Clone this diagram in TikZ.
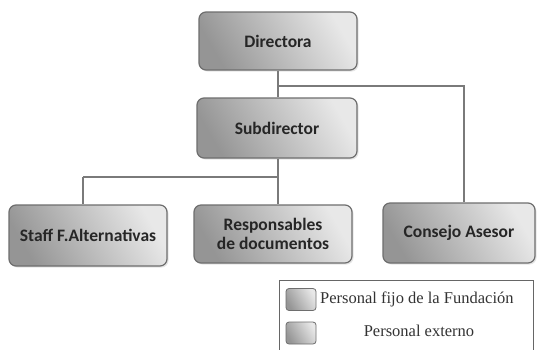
\documentclass[tikz,border=0pt]{standalone}
\usepackage{fontspec}
\setmainfont{Liberation Serif}
\newfontfamily\boxfont{Carlito}
\usetikzlibrary{shadows}
\definecolor{boxdark}{HTML}{959595}
\definecolor{boxlight}{HTML}{E8E8E8}
\definecolor{boxedge}{HTML}{6E6E6E}
\definecolor{linegray}{HTML}{7A7A7A}
\tikzset{
  orgbox/.style={draw=boxedge, line width=1.2pt, rounded corners=7pt,
    left color=boxdark, right color=boxlight, shading angle=120,
    drop shadow={shadow xshift=1.5pt, shadow yshift=-1.5pt, fill=black!20},
    font=\boxfont\bfseries\fontsize{17.5}{19.5}\selectfont, align=center,
    inner sep=0pt, text=black!85},
  swatch/.style={draw=boxedge, line width=0.8pt, rounded corners=3pt,
    left color=boxdark, right color=boxlight, shading angle=120,
    minimum width=30pt, minimum height=22pt, inner sep=0pt},
  conn/.style={draw=linegray, line width=1.1pt},
  legtext/.style={font=\fontsize{16.5}{18}\selectfont, text=black!80, inner sep=0pt}
}
\begin{document}
\begin{tikzpicture}[x=1pt,y=-1pt]
\useasboundingbox (0,0) rectangle (537,349);
\fill[white] (0,0) rectangle (537,349);
% nodes
\node[orgbox, minimum width=158pt, minimum height=58pt] (dir) at (278,41) {Directora};
\node[orgbox, minimum width=160pt, minimum height=60pt] (sub) at (277,128) {Subdirector};
\node[orgbox, minimum width=158pt, minimum height=61pt] (staff) at (88,235.5) {Staff F.Alternativas};
\node[orgbox, minimum width=158pt, minimum height=58pt] (resp) at (273,234) {Responsables\\de documentos};
\node[orgbox, minimum width=152pt, minimum height=60pt] (cons) at (459,233) {Consejo Asesor};
% connectors
\coordinate (j1) at (278,86);
\coordinate (j1r) at (464,86);
\coordinate (j2) at (278,177);
\coordinate (j2l) at (83,177);
\draw[conn] (dir.south -| j1) -- (sub.north -| j1);
\draw[conn] (j1) -- (j1r) -- (cons.north -| j1r);
\draw[conn] (sub.south -| j2) -- (j2);
\draw[conn] (j2l) -- (j2);
\draw[conn] (j2l) -- (staff.north -| j2l);
\draw[conn] (j2) -- (resp.north -| j2);
% legend
\node[draw=black!60, line width=1pt, minimum width=254pt, minimum height=80pt, inner sep=0pt] (leg) at (406,320) {};
\node[swatch] (sw1) at (301,299.5) {};
\node[swatch] (sw2) at (301,333) {};
\node[legtext, anchor=west] (l1) at (320,299) {Personal fijo de la Fundación};
\node[legtext] (l2) at (419,331) {Personal externo};
\end{tikzpicture}
\end{document}
